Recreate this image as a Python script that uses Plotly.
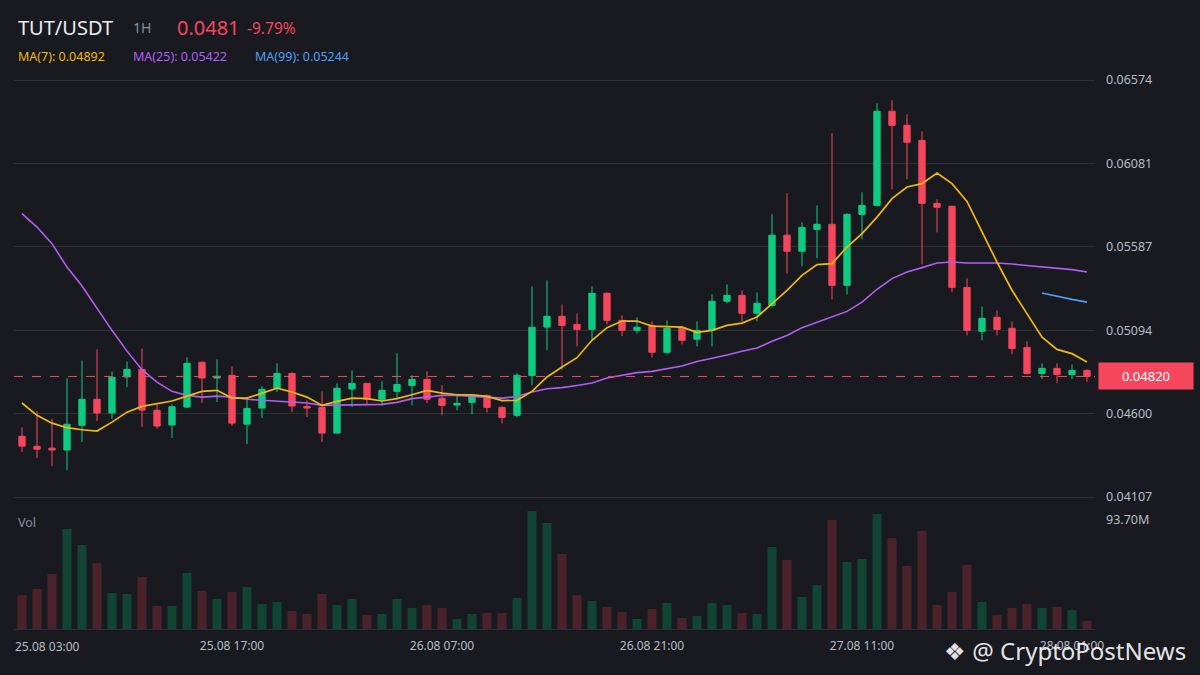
import pandas as pd
import plotly.graph_objects as go

# TUT/USDT 1H candles, 25.08 03:00 -> 28.08 02:00
times = pd.date_range("2025-08-25 03:00", periods=72, freq="h")

opens = [0.04466, 0.04407, 0.04396, 0.04385, 0.04531, 0.04685, 0.04604, 0.04817, 0.04862, 0.04620,
         0.04533, 0.04639, 0.04904, 0.04811, 0.04827, 0.04538, 0.04633, 0.04751, 0.04838, 0.04643,
         0.04637, 0.04485, 0.04746, 0.04779, 0.04685, 0.04732, 0.04767, 0.04803, 0.04691, 0.04651,
         0.04667, 0.04708, 0.04637, 0.04590, 0.04825, 0.05112, 0.05176, 0.05128, 0.05099, 0.05312,
         0.05152, 0.05093, 0.05122, 0.04963, 0.05111, 0.05040, 0.05093, 0.05265, 0.05300, 0.05194,
         0.05241, 0.05656, 0.05561, 0.05690, 0.05720, 0.05359, 0.05779, 0.05832, 0.06389, 0.06306,
         0.06217, 0.05844, 0.05827, 0.05347, 0.05087, 0.05170, 0.05105, 0.04992, 0.04838, 0.04868,
         0.04832, 0.04856]
highs = [0.04519, 0.04614, 0.04570, 0.04809, 0.04914, 0.04980, 0.04849, 0.04908, 0.04986, 0.04655,
         0.04655, 0.04933, 0.04909, 0.04921, 0.04880, 0.04689, 0.04762, 0.04898, 0.04844, 0.04679,
         0.04732, 0.04779, 0.04856, 0.04782, 0.04792, 0.04957, 0.04827, 0.04851, 0.04768, 0.04708,
         0.04712, 0.04712, 0.04643, 0.04838, 0.05353, 0.05389, 0.05247, 0.05193, 0.05353, 0.05318,
         0.05182, 0.05170, 0.05146, 0.05152, 0.05117, 0.05146, 0.05306, 0.05365, 0.05330, 0.05318,
         0.05780, 0.05904, 0.05732, 0.05832, 0.06259, 0.05785, 0.05910, 0.06436, 0.06454, 0.06371,
         0.06270, 0.05868, 0.05830, 0.05401, 0.05235, 0.05211, 0.05146, 0.05028, 0.04898, 0.04898,
         0.04892, 0.04862]
lows = [0.04373, 0.04337, 0.04290, 0.04265, 0.04432, 0.04556, 0.04568, 0.04757, 0.04521, 0.04509,
        0.04456, 0.04633, 0.04663, 0.04669, 0.04527, 0.04420, 0.04574, 0.04728, 0.04609, 0.04580,
        0.04432, 0.04485, 0.04639, 0.04655, 0.04645, 0.04685, 0.04649, 0.04663, 0.04590, 0.04620,
        0.04596, 0.04608, 0.04542, 0.04578, 0.04767, 0.04975, 0.04860, 0.04998, 0.05033, 0.05128,
        0.05059, 0.05075, 0.04933, 0.04951, 0.05010, 0.04998, 0.04998, 0.05253, 0.05146, 0.05146,
        0.05229, 0.05430, 0.05472, 0.05519, 0.05276, 0.05306, 0.05631, 0.05826, 0.05927, 0.05987,
        0.05483, 0.05673, 0.05318, 0.05063, 0.05034, 0.05063, 0.04951, 0.04832, 0.04805, 0.04781,
        0.04805, 0.04787]
closes = [0.04408, 0.04390, 0.04385, 0.04537, 0.04685, 0.04604, 0.04815, 0.04862, 0.04621, 0.04527,
          0.04641, 0.04898, 0.04811, 0.04821, 0.04544, 0.04631, 0.04744, 0.04838, 0.04645, 0.04633,
          0.04485, 0.04750, 0.04779, 0.04685, 0.04738, 0.04773, 0.04803, 0.04685, 0.04649, 0.04661,
          0.04707, 0.04637, 0.04578, 0.04827, 0.05111, 0.05176, 0.05122, 0.05099, 0.05312, 0.05152,
          0.05093, 0.05111, 0.04963, 0.05105, 0.05034, 0.05093, 0.05265, 0.05300, 0.05194, 0.05253,
          0.05656, 0.05561, 0.05702, 0.05720, 0.05359, 0.05779, 0.05832, 0.06389, 0.06306, 0.06205,
          0.05844, 0.05821, 0.05347, 0.05093, 0.05164, 0.05099, 0.04986, 0.04838, 0.04868, 0.04832,
          0.04856, 0.04820]

# volume in millions
volume_m = [29.2, 34.4, 47.3, 86.0, 72.2, 56.8, 31.0, 30.1, 44.7, 19.8,
            19.8, 48.2, 32.7, 25.8, 31.8, 36.1, 21.5, 23.2, 15.5, 12.9,
            30.1, 20.6, 25.8, 12.0, 12.9, 25.8, 18.1, 20.6, 18.1, 8.6,
            12.9, 13.8, 13.8, 26.7, 101.5, 91.2, 64.5, 29.2, 24.1, 18.9,
            14.6, 8.6, 17.2, 22.4, 9.5, 11.2, 22.4, 20.6, 13.8, 12.9,
            70.5, 59.3, 27.5, 37.8, 93.7, 57.6, 60.2, 98.9, 78.2, 54.2,
            84.2, 20.6, 31.8, 55.0, 23.2, 12.0, 18.1, 21.5, 18.1, 18.9,
            16.3, 6.9]

# moving averages as drawn (they use candles before the visible window)
ma7 = [0.04663, 0.04590, 0.04544, 0.04517, 0.04505, 0.04497, 0.04550, 0.04609, 0.04643, 0.04659,
       0.04675, 0.04704, 0.04732, 0.04738, 0.04692, 0.04692, 0.04722, 0.04751, 0.04728, 0.04698,
       0.04649, 0.04673, 0.04692, 0.04689, 0.04675, 0.04689, 0.04712, 0.04738, 0.04722, 0.04712,
       0.04712, 0.04702, 0.04677, 0.04679, 0.04732, 0.04817, 0.04876, 0.04931, 0.05034, 0.05109,
       0.05148, 0.05148, 0.05118, 0.05117, 0.05112, 0.05081, 0.05093, 0.05122, 0.05136, 0.05172,
       0.05253, 0.05330, 0.05418, 0.05482, 0.05488, 0.05586, 0.05665, 0.05763, 0.05872, 0.05941,
       0.05961, 0.06024, 0.05961, 0.05856, 0.05675, 0.05497, 0.05330, 0.05192, 0.05053, 0.04980,
       0.04955, 0.04905]
ma25 = [0.05783, 0.05704, 0.05606, 0.05467, 0.05355, 0.05221, 0.05093, 0.04970, 0.04860, 0.04787,
        0.04732, 0.04708, 0.04698, 0.04704, 0.04698, 0.04685, 0.04679, 0.04675, 0.04669, 0.04663,
        0.04649, 0.04651, 0.04651, 0.04651, 0.04655, 0.04667, 0.04689, 0.04698, 0.04708, 0.04708,
        0.04704, 0.04698, 0.04692, 0.04702, 0.04728, 0.04747, 0.04754, 0.04767, 0.04781, 0.04811,
        0.04827, 0.04843, 0.04850, 0.04866, 0.04882, 0.04909, 0.04927, 0.04947, 0.04969, 0.04988,
        0.05028, 0.05063, 0.05109, 0.05142, 0.05172, 0.05205, 0.05260, 0.05336, 0.05399, 0.05438,
        0.05464, 0.05491, 0.05497, 0.05491, 0.05491, 0.05491, 0.05485, 0.05477, 0.05467, 0.05458,
        0.05452, 0.05438]
ma99 = [None] * 68 + [0.05314, 0.05294, 0.05276, 0.05260]

price_ticks = [0.06574, 0.06081, 0.05587, 0.05094, 0.04600, 0.04107]
time_ticks = ["2025-08-25 17:00", "2025-08-26 07:00", "2025-08-26 21:00",
              "2025-08-27 11:00", "2025-08-28 01:00"]
time_labels = ["25.08 17:00", "26.08 07:00", "26.08 21:00", "27.08 11:00", "28.08 01:00"]
last_price = 0.04820

UP, DOWN = "#0ecb81", "#f6465d"
BG, GRID, TXT = "#181a20", "#2b2f36", "#b7bdc6"
FONT = "Noto Sans"

W, H = 1200, 675


def px_x(v):
    return v / W


def px_y(v):
    return 1 - v / H


fig = go.Figure()

vol_colors = ["#114432" if c >= o else "#4c222a" for o, c in zip(opens, closes)]
fig.add_trace(go.Bar(
    x=times, y=[v * 1e6 for v in volume_m], marker_color=vol_colors,
    marker_line_width=0, width=0.6 * 3600 * 1000, xaxis="x2", yaxis="y2",
))

fig.add_trace(go.Candlestick(
    x=times, open=opens, high=highs, low=lows, close=closes,
    increasing=dict(line=dict(color=UP, width=1), fillcolor=UP),
    decreasing=dict(line=dict(color=DOWN, width=1), fillcolor=DOWN),
    whiskerwidth=0,
))
fig.add_trace(go.Scatter(x=times, y=ma25, mode="lines", line=dict(color="#b15ef2", width=1.6)))
fig.add_trace(go.Scatter(x=times, y=ma99, mode="lines", line=dict(color="#4f9ff0", width=1.6)))
fig.add_trace(go.Scatter(x=times, y=ma7, mode="lines", line=dict(color="#f0b90b", width=1.7)))

# visible window: half a candle of padding either side
x_lo = times[0] - pd.Timedelta(minutes=32)
x_hi = times[-1] + pd.Timedelta(minutes=32)

xdom = [px_x(14), px_x(1095)]
px_per_unit = (497 - 80) / (0.06574 - 0.04107)
y_top_val = 0.06574 + (80 - 75) / px_per_unit
y_bot_val = 0.06574 - (500 - 80) / px_per_unit

fig.update_layout(
    width=W, height=H, margin=dict(l=0, r=0, t=0, b=0, pad=0),
    paper_bgcolor=BG, plot_bgcolor=BG, showlegend=False,
    boxgap=0.4, bargap=0.4,
    font=dict(family=FONT, color=TXT, size=12),
    xaxis=dict(domain=xdom, range=[x_lo, x_hi], anchor="y", showticklabels=False,
               showgrid=False, zeroline=False, rangeslider=dict(visible=False),
               matches="x2", automargin=False),
    yaxis=dict(domain=[px_y(500), px_y(75)], range=[y_bot_val, y_top_val], side="right",
               tickvals=price_ticks, ticktext=[f"{v:.5f}" for v in price_ticks],
               showgrid=True, gridcolor=GRID, gridwidth=1, zeroline=False, automargin=False,
               ticklabelstandoff=10, tickfont=dict(size=12.5, color=TXT)),
    xaxis2=dict(domain=xdom, range=[x_lo, x_hi], anchor="y2", showgrid=False,
                tickvals=time_ticks, ticktext=time_labels, ticks="outside", ticklen=6,
                tickcolor=BG, showline=True, linecolor=GRID, linewidth=1,
                tickfont=dict(size=12, color=TXT), zeroline=False, automargin=False),
    yaxis2=dict(domain=[px_y(629), px_y(505)], range=[0, 93.7e6 * 124 / 109], side="right",
                tickvals=[93.7e6], ticktext=["93.70M"], showgrid=False, zeroline=False,
                automargin=False, ticklabelstandoff=10, tickfont=dict(size=12.5, color=TXT)),
)

# last price dashed line + tag
fig.add_shape(type="line", xref="paper", yref="y", x0=xdom[0], x1=xdom[1],
              y0=last_price, y1=last_price, line=dict(color=DOWN, width=1, dash="dash"))

ann = [
    dict(x=px_x(1146), y=last_price, yref="y", text=f"{last_price:.5f}", bgcolor=DOWN,
         font=dict(size=13, color="#ffffff"), width=88, height=20, borderpad=3,
         xanchor="center", yanchor="middle"),
    dict(x=px_x(16), y=px_y(27), text="TUT/USDT", font=dict(size=20, color="#eaecef")),
    dict(x=px_x(131), y=px_y(28), text="1H", font=dict(size=14, color="#848e9c")),
    dict(x=px_x(175), y=px_y(27), text="0.0481", font=dict(size=20, color=DOWN)),
    dict(x=px_x(245), y=px_y(28), text="-9.79%", font=dict(size=15.5, color=DOWN)),
    dict(x=px_x(16), y=px_y(57), text="MA(7): 0.04892", font=dict(size=12.5, color="#f0b90b")),
    dict(x=px_x(131), y=px_y(57), text="MA(25): 0.05422", font=dict(size=12.5, color="#b15ef2")),
    dict(x=px_x(253), y=px_y(57), text="MA(99): 0.05244", font=dict(size=12.5, color="#4f9ff0")),
    dict(x=px_x(16), y=px_y(522), text="Vol", font=dict(size=12.5, color="#848e9c")),
    dict(x=px_x(13), y=px_y(646), text="25.08 03:00", font=dict(size=12, color=TXT)),
    dict(x=px_x(942), y=px_y(650), text="❖ @ CryptoPostNews",
         font=dict(size=24, color="rgba(255,255,255,0.9)")),
]
for a in ann:
    a.setdefault("xref", "paper")
    a.setdefault("yref", "paper")
    a.setdefault("xanchor", "left")
    a.setdefault("yanchor", "middle")
    a["showarrow"] = False
    fig.add_annotation(**a)

# pin the chart to the page corner so the page is exactly the figure size
pin = (
    "var gd=document.getElementById('{plot_id}');"
    "gd.style.position='absolute';gd.style.left='0';gd.style.top='0';"
    "document.body.style.margin='0';document.body.style.background='" + BG + "';"
    "document.documentElement.style.overflow='hidden';"
)
fig.write_html("out.html", config={"displayModeBar": False}, post_script=pin)
